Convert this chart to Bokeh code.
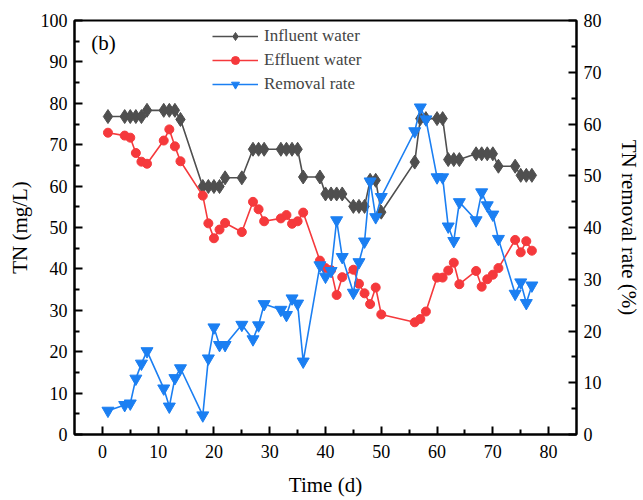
from bokeh.plotting import figure
from bokeh.models import Range1d, LinearAxis, Legend, LegendItem, Label, FixedTicker
from bokeh.embed import file_html
from bokeh.resources import INLINE

# ---------------- data ----------------
days = [1, 4, 5, 6, 7, 8, 11, 12, 13, 14, 18, 19, 20, 21, 22, 25, 27, 28, 29,
        32, 33, 34, 35, 36, 39, 40, 41, 42, 43, 45, 46, 47, 48, 49, 50, 56, 57,
        58, 60, 61, 62, 63, 64, 67, 68, 69, 70, 71, 74, 75, 76, 77]

influent = [76.8, 76.8, 76.8, 76.8, 76.8, 78.3, 78.3, 78.3, 78.3, 76.1,
            59.9, 59.9, 59.9, 59.9, 62.0, 62.0, 68.9, 68.9, 68.9,
            68.9, 68.9, 68.9, 68.9, 62.2, 62.2, 58.1, 58.1, 58.1, 58.1,
            55.1, 55.1, 55.1, 61.4, 61.4, 53.7, 65.8, 76.3,
            76.3, 76.3, 76.3, 66.4, 66.4, 66.4, 67.8, 67.8, 67.8, 67.8, 64.8,
            64.8, 62.6, 62.6, 62.6]

effluent = [72.9, 72.2, 71.7, 68.0, 65.9, 65.4, 71.0, 73.7, 69.6, 66.0,
            57.7, 51.0, 47.4, 49.5, 51.1, 48.9, 56.2, 54.4, 51.5,
            52.2, 53.0, 50.9, 51.5, 53.6, 42.0, 40.2, 39.7, 33.7, 38.0,
            39.8, 36.4, 34.1, 31.5, 35.5, 29.0, 27.1, 27.9,
            29.7, 37.9, 37.9, 39.6, 41.5, 36.3, 39.5, 35.7, 37.5, 38.6, 40.2,
            47.0, 44.0, 46.7, 44.4]

removal = [4.6, 5.7, 6.0, 10.8, 13.7, 16.1, 8.9, 5.4, 10.9, 12.8,
           3.7, 14.7, 20.7, 17.3, 17.3, 21.2, 18.4, 21.1, 25.2,
           24.1, 23.1, 26.3, 25.3, 14.1, 32.7, 30.5, 31.6, 41.4, 34.3,
           27.4, 33.3, 37.3, 48.9, 42.0, 45.9, 58.6, 63.2,
           60.9, 49.7, 49.7, 40.2, 37.4, 44.9, 41.4, 46.8, 44.3, 42.5, 37.8,
           27.2, 29.4, 25.4, 28.8]

x_ticks = [0, 10, 20, 30, 40, 50, 60, 70, 80]
left_ticks = [0, 10, 20, 30, 40, 50, 60, 70, 80, 90, 100]
right_ticks = [0, 10, 20, 30, 40, 50, 60, 70, 80]

FONT = "Liberation Serif"
C_IN = "#4f4f4f"
C_EF = "#f5393c"
C_RR = "#1b7ff2"

p = figure(width=643, height=500, output_backend="svg", toolbar_location=None,
           x_range=Range1d(-5, 85), y_range=Range1d(0, 100),
           min_border_left=74, min_border_right=52, min_border_top=20,
           min_border_bottom=66)
p.extra_y_ranges = {"rate": Range1d(0, 80)}
p.xgrid.visible = False
p.ygrid.visible = False
p.outline_line_color = "black"
p.outline_line_width = 2
p.background_fill_color = "white"
p.border_fill_color = "white"

r_in_l = p.line(days, influent, line_color=C_IN, line_width=1.6)
r_in_m = p.scatter(days, influent, marker="diamond", size=14, fill_color=C_IN,
                   line_color=C_IN)
r_ef_l = p.line(days, effluent, line_color=C_EF, line_width=1.6)
r_ef_m = p.scatter(days, effluent, marker="circle", size=9, fill_color=C_EF,
                   line_color=C_EF)
r_rr_l = p.line(days, removal, line_color=C_RR, line_width=1.6, y_range_name="rate")
r_rr_m = p.scatter(days, removal, marker="inverted_triangle", size=12,
                   fill_color=C_RR, line_color=C_RR, y_range_name="rate")

right_axis = LinearAxis(y_range_name="rate", axis_label="TN removal rate (%)")
p.add_layout(right_axis, "right")


def style_axis(ax, ticks, minor):
    ax.ticker = FixedTicker(ticks=ticks, minor_ticks=minor)
    ax.axis_line_width = 2
    ax.axis_line_color = "black"
    ax.major_tick_line_width = 2
    ax.minor_tick_line_width = 2
    ax.major_tick_in = 8
    ax.major_tick_out = 0
    ax.minor_tick_in = 5
    ax.minor_tick_out = 0
    ax.major_label_text_font = FONT
    ax.major_label_text_font_size = "18px"
    ax.major_label_text_color = "black"
    ax.axis_label_text_font = FONT
    ax.axis_label_text_font_size = "21px"
    ax.axis_label_text_font_style = "normal"
    ax.axis_label_text_color = "black"
    ax.major_label_standoff = 7


style_axis(p.xaxis[0], x_ticks, [t + 5 for t in x_ticks[:-1]])
style_axis(p.yaxis[0], left_ticks, [t + 5 for t in left_ticks[:-1]])
style_axis(right_axis, right_ticks, [t + 5 for t in right_ticks[:-1]])
p.xaxis[0].axis_label = "Time (d)"
p.yaxis[0].axis_label = "TN (mg/L)"
p.xaxis[0].major_label_standoff = 10
p.xaxis[0].axis_label_standoff = 12
p.yaxis[0].axis_label_standoff = 6
right_axis.axis_label_standoff = 12

legend = Legend(items=[
    LegendItem(label="Influent water", renderers=[r_in_l, r_in_m]),
    LegendItem(label="Effluent water", renderers=[r_ef_l, r_ef_m]),
    LegendItem(label="Removal rate", renderers=[r_rr_l, r_rr_m]),
], location=(136, 338))
legend.background_fill_alpha = 0
legend.border_line_alpha = 0
legend.label_text_font = FONT
legend.label_text_font_size = "17px"
legend.glyph_width = 46
legend.glyph_height = 20
legend.label_height = 20
legend.spacing = 4
legend.padding = 2
legend.margin = 0
legend.label_standoff = 6
p.add_layout(legend, "center")

p.add_layout(Label(x=-2.0, y=94.6, text="(b)", text_font=FONT,
                   text_font_size="21px", text_baseline="middle",
                   text_align="left", text_color="black"))

open("out.html", "w").write(file_html(p, INLINE))
